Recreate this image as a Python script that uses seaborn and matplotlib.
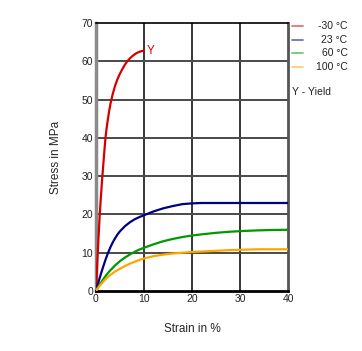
import pandas as pd
import matplotlib.pyplot as plt
import seaborn as sns
from matplotlib.lines import Line2D

sns.set_style('white')
plt.rcParams['font.family'] = ['Liberation Sans', 'DejaVu Sans']

strain_m30 = [0, 0.25, 0.5, 0.75, 1, 1.25, 1.5, 1.75, 2, 2.25, 2.5, 2.75, 3, 3.5, 4,
              4.5, 5, 5.5, 6, 6.5, 7, 7.5, 8, 8.5, 9, 9.5, 10]
stress_m30 = [0, 6.5, 13, 19, 24, 28.5, 32.5, 36.5, 40.2, 42.8, 45, 47, 48.8, 51.5, 53.7,
              55.4, 56.8, 58, 59.1, 60, 60.7, 61.3, 61.8, 62.2, 62.5, 62.7, 62.8]

strain_23 = [0, 0.5, 1, 1.5, 2, 2.5, 3, 3.5, 4, 4.5, 5, 6, 7, 8, 9, 10, 12, 14, 16, 18,
             20, 22, 25, 30, 35, 40]
stress_23 = [0, 2.2, 4.3, 6.3, 8.2, 9.9, 11.4, 12.7, 13.8, 14.8, 15.6, 16.9, 17.9, 18.7,
             19.3, 19.8, 20.8, 21.6, 22.2, 22.7, 22.9, 23, 23, 23, 23, 23]

strain_60 = [0, 0.5, 1, 1.5, 2, 2.5, 3, 4, 5, 6, 7, 8, 9, 10, 12, 14, 16, 18, 20, 22,
             25, 28, 31, 34, 37, 40]
stress_60 = [0, 1.1, 2.1, 3, 3.9, 4.7, 5.4, 6.7, 7.8, 8.7, 9.5, 10.2, 10.8, 11.3, 12.2,
             13, 13.6, 14.1, 14.5, 14.8, 15.2, 15.5, 15.7, 15.85, 15.95, 16]

strain_100 = [0, 0.5, 1, 1.5, 2, 2.5, 3, 4, 5, 6, 7, 8, 9, 10, 12, 14, 16, 18, 20, 22,
              25, 28, 31, 34, 37, 40]
stress_100 = [0, 0.9, 1.7, 2.4, 3.1, 3.7, 4.2, 5.1, 5.8, 6.5, 7.1, 7.6, 8.1, 8.5, 9.1,
              9.5, 9.8, 10, 10.2, 10.3, 10.5, 10.7, 10.8, 10.9, 10.9, 10.9]

labels = ['-30 °C', '23 °C', '60 °C', '100 °C']
colors = ['#d40000', '#000080', '#009900', '#ffa500']

frames = []
for lab, xs, ys in zip(labels,
                       [strain_m30, strain_23, strain_60, strain_100],
                       [stress_m30, stress_23, stress_60, stress_100]):
    frames.append(pd.DataFrame({'strain': xs, 'stress': ys, 'temp': lab}))
df = pd.concat(frames, ignore_index=True)

fig = plt.figure(figsize=(3.62, 3.51), dpi=100)
ax = fig.add_axes([0.265, 0.171, 0.531, 0.763])

sns.lineplot(data=df, x='strain', y='stress', hue='temp', hue_order=labels,
             palette=colors, linewidth=1.6, sort=False, legend=False, ax=ax, zorder=3)

ax.set_xlim(0, 40)
ax.set_ylim(0, 70)
ax.set_xticks(range(0, 41, 10))
ax.set_yticks(range(0, 71, 10))
for v in [10, 20, 30]:
    ax.axvline(v, color='black', lw=1.1, zorder=1)
for v in range(10, 70, 10):
    ax.axhline(v, color='#4a4a4a', lw=1.4, zorder=1)

for s in ax.spines.values():
    s.set_visible(True)
ax.spines['left'].set_color('#8a8a8a')
ax.spines['left'].set_linewidth(2.5)
ax.spines['bottom'].set_color('black')
ax.spines['bottom'].set_linewidth(2)
ax.spines['top'].set_color('black')
ax.spines['top'].set_linewidth(1.2)
ax.spines['right'].set_color('#555555')
ax.spines['right'].set_linewidth(2)

ax.tick_params(length=0, labelsize=7.5, pad=2, colors='#222222')
ax.set_xlabel('Strain in %', fontsize=8.5, labelpad=14)
ax.set_ylabel('Stress in MPa', fontsize=8.5, labelpad=14)

ax.text(strain_m30[-1] + 0.6, stress_m30[-1], 'Y', color='#d40000',
        fontsize=8.5, va='center', ha='left')

# legend drawn at figure level
leg_y = [0.926, 0.887, 0.849, 0.809]
for lab, c, y in zip(labels, colors, leg_y):
    fig.add_artist(Line2D([0.807, 0.838], [y, y], color=c, alpha=0.55, lw=1.3,
                          transform=fig.transFigure))
    fig.text(0.96, y, lab, ha='right', va='center', fontsize=7.5, color='#222222')
fig.text(0.807, 0.738, 'Y - Yield', ha='left', va='center', fontsize=7.5, color='#222222')

fig.savefig('out.png', dpi=100)
